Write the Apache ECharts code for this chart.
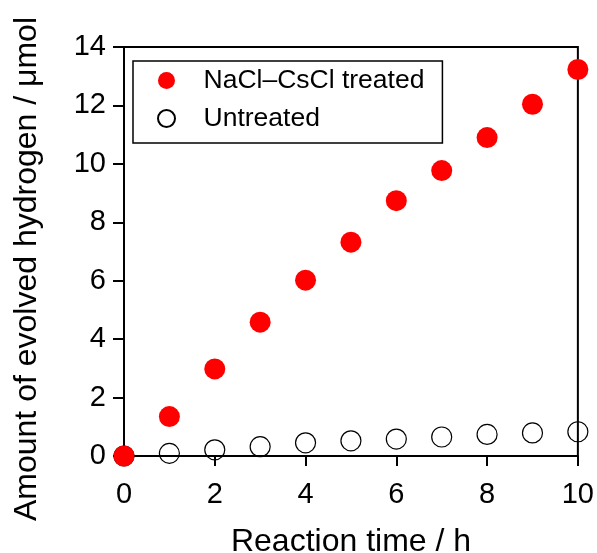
<!DOCTYPE html>
<html>
<head>
<meta charset="utf-8">
<script src="https://cdn.jsdelivr.net/npm/echarts@6/dist/echarts.min.js"></script>
<style>html,body{margin:0;padding:0;background:#fff;}#c{width:597px;height:553px;}</style>
</head>
<body>
<div id="c"></div>
<script>
const reactionTime = [0, 1, 2, 3, 4, 5, 6, 7, 8, 9, 10];
const treated = [0, 1.35, 2.98, 4.58, 6.02, 7.32, 8.74, 9.77, 10.9, 12.04, 13.23];
const untreated = [0, 0.09, 0.21, 0.32, 0.45, 0.52, 0.58, 0.65, 0.74, 0.79, 0.83];
const seriesNames = ['NaCl\u2013CsCl treated', 'Untreated'];
const xTitle = 'Reaction time / h';
const yTitle = 'Amount of evolved hydrogen / \u03bcmol';

const FONT = 'Liberation Sans, Arial, sans-serif';
const chart = echarts.init(document.getElementById('c'), null, {renderer: 'canvas'});
const pairs = (xs, ys) => xs.map((x, i) => [x, ys[i]]);

chart.setOption({
  animation: false,
  backgroundColor: '#fff',
  grid: {left: 124, top: 47, width: 454, height: 409, show: true, borderColor: '#000', borderWidth: 2, backgroundColor: 'transparent'},
  xAxis: {
    type: 'value', min: 0, max: 10, interval: 2,
    axisLine: {show: true, lineStyle: {color: '#000', width: 2}},
    axisTick: {show: true, inside: false, length: 10, lineStyle: {color: '#000', width: 2}},
    axisLabel: {color: '#000', fontSize: 29, fontFamily: FONT, margin: 24},
    splitLine: {show: false}
  },
  yAxis: {
    type: 'value', min: 0, max: 14, interval: 2,
    axisLine: {show: true, lineStyle: {color: '#000', width: 2}},
    axisTick: {show: true, inside: false, length: 11, lineStyle: {color: '#000', width: 2}},
    axisLabel: {color: '#000', fontSize: 29, fontFamily: FONT, margin: 18},
    splitLine: {show: false}
  },
  legend: {
    orient: 'vertical', left: 133, top: 61,
    padding: [6, 18, 11, 24],
    itemGap: 11, itemWidth: 64, itemHeight: 17,
    borderColor: '#000', borderWidth: 1.5, backgroundColor: '#fff',
    textStyle: {color: '#000', fontSize: 26.5, fontFamily: FONT, lineHeight: 26},
    data: [seriesNames[0], seriesNames[1]]
  },
  graphic: [
    {type: 'text', x: 351, y: 526, style: {text: xTitle, font: '32px ' + FONT, fill: '#000', textAlign: 'center', textVerticalAlign: 'top'}},
    {type: 'text', x: 11, y: 269, rotation: Math.PI / 2, style: {text: yTitle, font: '32px ' + FONT, fill: '#000', textAlign: 'center', textVerticalAlign: 'top'}}
  ],
  series: [
    {
      name: seriesNames[1], type: 'scatter', clip: false, z: 2,
      symbol: 'circle', symbolSize: 20,
      itemStyle: {color: 'rgba(255,255,255,0)', borderColor: '#000', borderWidth: 1.2, opacity: 1},
      data: pairs(reactionTime, untreated)
    },
    {
      name: seriesNames[0], type: 'scatter', clip: false, z: 3,
      symbol: 'circle', symbolSize: 21,
      itemStyle: {color: '#ff0000', opacity: 1},
      data: pairs(reactionTime, treated)
    }
  ]
});
</script>
</body>
</html>
